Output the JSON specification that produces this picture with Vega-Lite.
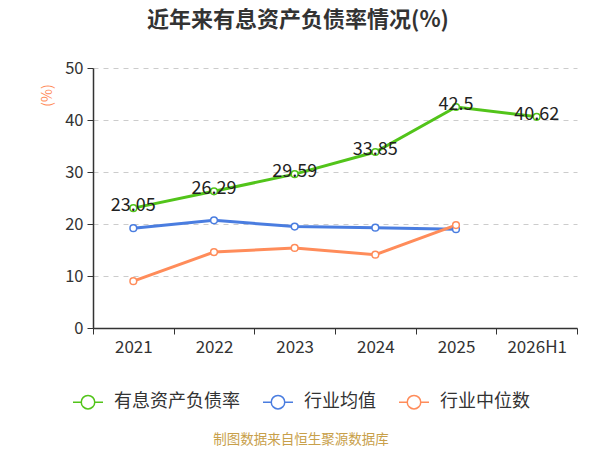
{
  "$schema": "https://vega.github.io/schema/vega-lite/v6.json",
  "autosize": {"type": "none"},
  "width": 484,
  "height": 260,
  "padding": {"left": 93, "top": 68, "right": 23, "bottom": 122},
  "background": "white",
  "config": {
    "font": "Noto Sans CJK SC",
    "view": {"stroke": null}
  },
  "title": {
    "text": "近年来有息资产负债率情况(%)",
    "fontSize": 22,
    "fontWeight": "bold",
    "color": "#333333",
    "anchor": "middle",
    "dx": -37,
    "offset": 28
  },
  "data": {
    "values": [
      {"year": "2021", "series": "有息资产负债率", "value": 23.05},
      {"year": "2022", "series": "有息资产负债率", "value": 26.29},
      {"year": "2023", "series": "有息资产负债率", "value": 29.59},
      {"year": "2024", "series": "有息资产负债率", "value": 33.85},
      {"year": "2025", "series": "有息资产负债率", "value": 42.5},
      {"year": "2026H1", "series": "有息资产负债率", "value": 40.62},
      {"year": "2021", "series": "行业均值", "value": 19.2},
      {"year": "2022", "series": "行业均值", "value": 20.7},
      {"year": "2023", "series": "行业均值", "value": 19.5},
      {"year": "2024", "series": "行业均值", "value": 19.3},
      {"year": "2025", "series": "行业均值", "value": 19.0},
      {"year": "2021", "series": "行业中位数", "value": 9.0},
      {"year": "2022", "series": "行业中位数", "value": 14.6},
      {"year": "2023", "series": "行业中位数", "value": 15.4},
      {"year": "2024", "series": "行业中位数", "value": 14.1},
      {"year": "2025", "series": "行业中位数", "value": 19.8}
    ]
  },
  "encoding": {
    "x": {
      "field": "year",
      "type": "ordinal",
      "sort": null,
      "scale": {"type": "band", "paddingInner": 0, "paddingOuter": 0},
      "axis": {
        "title": null,
        "labelAngle": 0,
        "labelFontSize": 17,
        "labelColor": "#333333",
        "labelPadding": 5,
        "tickBand": "extent",
        "tickSize": 6,
        "tickColor": "#333333",
        "domainColor": "#333333",
        "domainWidth": 1.5,
        "grid": false
      }
    },
    "y": {
      "field": "value",
      "type": "quantitative",
      "scale": {"domain": [0, 50]},
      "axis": {
        "values": [0, 10, 20, 30, 40, 50],
        "title": "(%)",
        "titleColor": "#ff8c5a",
        "titleFontSize": 14,
        "titleFontWeight": "normal",
        "titleX": -46,
        "titleY": 27,
        "titleAlign": "center",
        "titleBaseline": "middle",
        "labelFontSize": 16.5,
        "labelColor": "#333333",
        "labelPadding": 4,
        "tickSize": 6,
        "tickColor": "#333333",
        "domainColor": "#333333",
        "domainWidth": 1.5,
        "gridColor": "#cccccc",
        "gridDash": [5, 5]
      }
    },
    "color": {
      "field": "series",
      "type": "nominal",
      "scale": {
        "domain": ["有息资产负债率", "行业均值", "行业中位数"],
        "range": ["#52c41a", "#4a7de0", "#ff8c5a"]
      },
      "legend": {
        "orient": "none",
        "direction": "horizontal",
        "legendX": -21,
        "legendY": 318,
        "title": "制图数据来自恒生聚源数据库",
        "titleOrient": "bottom",
        "titleAnchor": "middle",
        "titleColor": "#c8a04a",
        "titleFontSize": 13.5,
        "titleFontWeight": "normal",
        "titlePadding": 21,
        "labelFontSize": 18,
        "labelColor": "#333333",
        "labelOffset": 10,
        "columnPadding": 20,
        "symbolType": "M-1,0L-0.45,0M0.45,0L1,0M-0.45,0A0.45,0.45,0,1,1,0.45,0A0.45,0.45,0,1,1,-0.45,0",
        "symbolSize": 900,
        "symbolStrokeWidth": 1.5,
        "symbolFillColor": "white"
      }
    }
  },
  "layer": [
    {
      "mark": {"type": "line", "strokeWidth": 3},
      "encoding": {}
    },
    {
      "mark": {"type": "point", "filled": false, "fill": "white", "fillOpacity": 1, "strokeWidth": 1.5, "size": 45, "opacity": 1},
      "encoding": {}
    },
    {
      "transform": [{"filter": "datum.series === '有息资产负债率'"}],
      "mark": {"type": "text", "fontSize": 18, "baseline": "middle", "dy": -2},
      "encoding": {
        "text": {"field": "value", "type": "quantitative"},
        "color": {"value": "#222222"}
      }
    }
  ]
}
